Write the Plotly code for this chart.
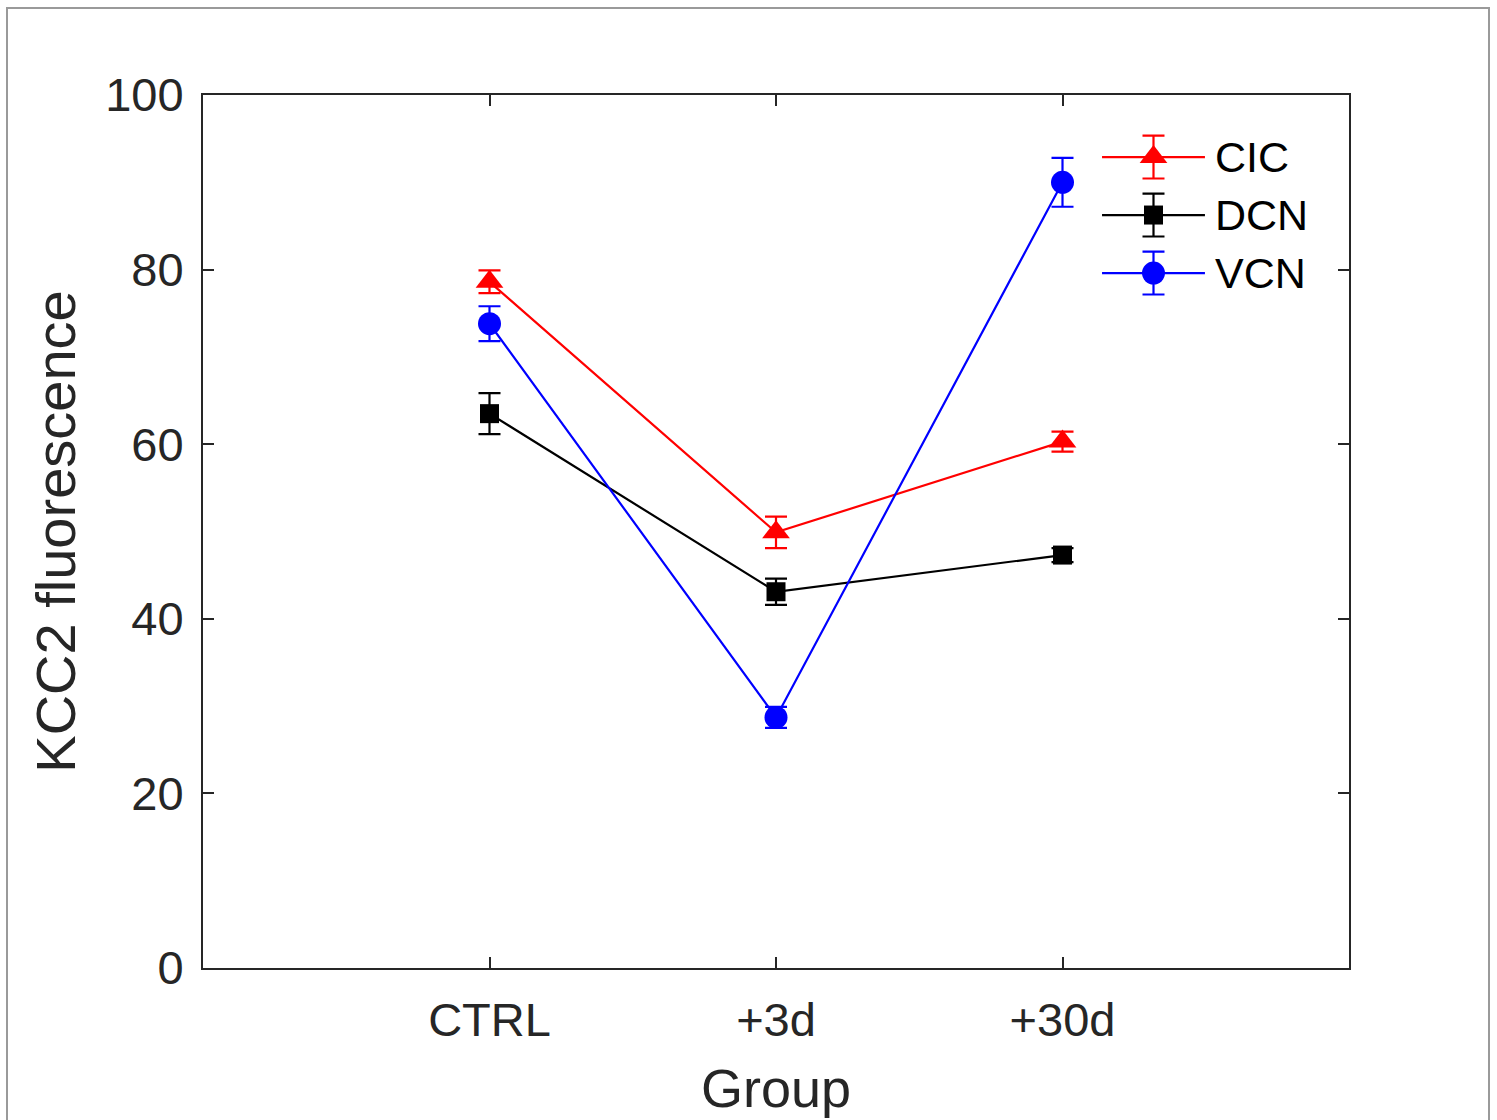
import plotly.graph_objects as go

groups = ["CTRL", "+3d", "+30d"]
group_pos = [1, 2, 3]

series_names = ["CIC", "DCN", "VCN"]
cic_mean = [78.6, 49.9, 60.3]
cic_err = [1.3, 1.8, 1.15]
dcn_mean = [63.5, 43.1, 47.3]
dcn_err = [2.35, 1.5, 0.8]
vcn_mean = [73.8, 28.7, 90.0]
vcn_err = [2.0, 1.2, 2.8]

y_ticks = [0, 20, 40, 60, 80, 100]

colors = {"CIC": "#ff0000", "DCN": "#000000", "VCN": "#0000ff"}
symbols = {"CIC": "triangle-up", "DCN": "square", "VCN": "circle"}
msizes = {"CIC": 24, "DCN": 19, "VCN": 23}

means = {"CIC": cic_mean, "DCN": dcn_mean, "VCN": vcn_mean}
errs = {"CIC": cic_err, "DCN": dcn_err, "VCN": vcn_err}

FONT = "Liberation Sans, Arial, Helvetica, sans-serif"
AX = "#262626"

fig = go.Figure()

for name in series_names:
    c = colors[name]
    fig.add_trace(go.Scatter(
        x=group_pos, y=means[name], name=name, mode="lines+markers",
        line=dict(color=c, width=2.2),
        marker=dict(symbol=symbols[name], size=msizes[name], color=c, line=dict(width=0)),
        error_y=dict(type="data", array=errs[name], visible=True, color=c, thickness=2.2, width=11),
        showlegend=False,
    ))

# custom legend (MATLAB-style, with error bar sample) on an overlay axis
legend_rows = {"CIC": 2, "DCN": 1, "VCN": 0}
for name in series_names:
    c = colors[name]
    r = legend_rows[name]
    fig.add_trace(go.Scatter(
        x=[0, 2], y=[r, r], mode="lines", line=dict(color=c, width=2.2),
        xaxis="x2", yaxis="y2", showlegend=False, hoverinfo="skip", cliponaxis=False,
    ))
    fig.add_trace(go.Scatter(
        x=[1], y=[r], mode="markers",
        marker=dict(symbol=symbols[name], size=msizes[name], color=c, line=dict(width=0)),
        error_y=dict(type="constant", value=0.37, visible=True, color=c, thickness=2.2, width=11),
        xaxis="x2", yaxis="y2", showlegend=False, hoverinfo="skip", cliponaxis=False,
    ))
    fig.add_annotation(
        x=2, y=r, xref="x2", yref="y2", text=name, showarrow=False,
        xanchor="left", yanchor="middle", xshift=8,
        font=dict(family=FONT, size=43, color="#000000"),
    )

axis_common = dict(
    showline=True, linecolor=AX, linewidth=2, mirror="ticks",
    ticks="inside", ticklen=11, tickwidth=2, tickcolor=AX,
    showgrid=False, zeroline=False,
    tickfont=dict(family=FONT, size=47, color=AX),
)

fig.update_layout(
    width=1497, height=1120,
    margin=dict(l=203, r=148, t=95, b=152, autoexpand=False),
    paper_bgcolor="white", plot_bgcolor="white",
    xaxis=dict(
        range=[0, 4], tickmode="array", tickvals=group_pos, ticktext=groups,
        ticklabelstandoff=10,
        title=dict(text="Group", font=dict(family=FONT, size=54, color=AX), standoff=24),
        **axis_common,
    ),
    yaxis=dict(
        range=[0, 100], tickmode="array", tickvals=y_ticks,
        ticklabelstandoff=8,
        title=dict(text="KCC2 fluorescence", font=dict(family=FONT, size=56, color=AX), standoff=12),
        **axis_common,
    ),
    xaxis2=dict(domain=[0.7845, 0.8743], range=[0, 2], visible=False, anchor="y2", fixedrange=True),
    yaxis2=dict(domain=[0.7296, 0.9954], range=[-1, 3], visible=False, anchor="x2", fixedrange=True),
    shapes=[dict(
        type="rect", xref="paper", yref="paper",
        x0=(7 - 203) / 1146, x1=(1489 - 203) / 1146,
        y0=(968 - 1130) / 873, y1=(968 - 8) / 873,
        line=dict(color="#9a9a9a", width=2), layer="below",
    )],
)

fig.write_html("out.html")
